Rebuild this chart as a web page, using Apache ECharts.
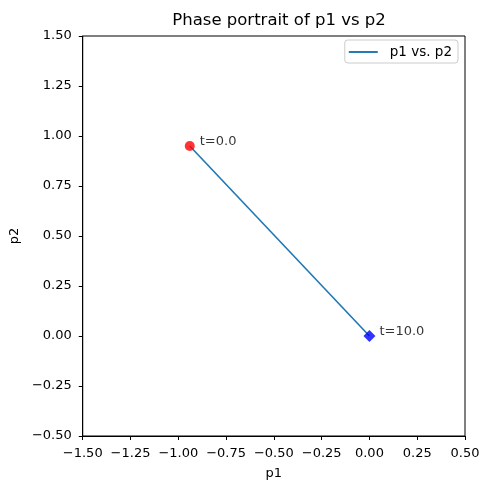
<!DOCTYPE html>
<html><head><meta charset="utf-8">
<script src="https://cdn.jsdelivr.net/npm/echarts@6/dist/echarts.min.js"></script>
<style>html,body{margin:0;padding:0;background:#fff}#c{width:490px;height:490px}</style>
</head><body><div id="c"></div>
<script>
const title = 'Phase portrait of p1 vs p2';
const p1 = [-0.94, 0.0];
const p2 = [0.95, 0.0];
const startLabel = 't=0.0';
const endLabel = 't=10.0';
const xTicks = [-1.5, -1.25, -1.0, -0.75, -0.5, -0.25, 0.0, 0.25, 0.5];
const yTicks = [-0.5, -0.25, 0.0, 0.25, 0.5, 0.75, 1.0, 1.25, 1.5];

const font = 'DejaVu Sans';
const fmt = v => (v < 0 ? '\u2212' : '') + Math.abs(v).toFixed(2);
const chart = echarts.init(document.getElementById('c'), null, {renderer: 'canvas'});
chart.setOption({
  animation: false,
  title: {text: title, left: 274, textAlign: 'center', top: 7, textStyle: {fontFamily: font, fontSize: 16.5, fontWeight: 'normal', color: '#000'}},
  grid: {left: 82, right: 25, top: 36, bottom: 54, show: true, borderColor: '#000', borderWidth: 1, backgroundColor: '#fff'},
  legend: {
    right: 32, top: 40, orient: 'vertical',
    data: [{name: 'p1 vs. p2', icon: 'path://M0,0 L30,0 L30,2 L0,2 Z'}],
    itemWidth: 29, itemHeight: 2, itemGap: 5,
    textStyle: {fontFamily: font, fontSize: 13.5, color: '#000', padding: [0, 0, 0, 7]},
    borderColor: '#ccc', borderWidth: 1, borderRadius: 3, padding: [5, 6, 4, 4], backgroundColor: '#fff'
  },
  xAxis: {
    type: 'value', min: -1.5, max: 0.5, interval: 0.25,
    name: 'p1', nameLocation: 'middle', nameGap: 31,
    nameTextStyle: {fontFamily: font, fontSize: 13, color: '#000'},
    axisLine: {show: true, onZero: false, lineStyle: {color: '#000'}},
    axisTick: {show: true, length: 4, lineStyle: {color: '#000'}},
    splitLine: {show: false},
    axisLabel: {fontFamily: font, fontSize: 13, color: '#000', margin: 11, formatter: v => fmt(v)}
  },
  yAxis: {
    type: 'value', min: -0.5, max: 1.5, interval: 0.25,
    name: 'p2', nameLocation: 'middle', nameGap: 54, nameRotate: 90,
    nameTextStyle: {fontFamily: font, fontSize: 13, color: '#000'},
    axisLine: {show: true, onZero: false, lineStyle: {color: '#000'}},
    axisTick: {show: true, length: 4, lineStyle: {color: '#000'}},
    splitLine: {show: false},
    axisLabel: {fontFamily: font, fontSize: 13, color: '#000', margin: 11, formatter: v => fmt(v)}
  },
  series: [
    {
      name: 'p1 vs. p2', type: 'line', data: p1.map((x, i) => [x, p2[i]]),
      showSymbol: false, symbol: 'none', lineStyle: {color: '#1f77b4', width: 1.6}, itemStyle: {color: '#1f77b4'}, z: 2
    },
    {
      name: 'start', type: 'scatter', data: [[p1[0], p2[0]]], symbol: 'circle', symbolSize: 10,
      itemStyle: {color: '#ff0000'}, z: 3,
      label: {show: true, position: 'right', distance: 5, offset: [0, -4], formatter: startLabel, fontFamily: font, fontSize: 13, color: '#000'}
    },
    {
      name: 'end', type: 'scatter', data: [[p1[p1.length - 1], p2[p2.length - 1]]], symbol: 'diamond', symbolSize: 12,
      itemStyle: {color: '#0000ff'}, z: 3,
      label: {show: true, position: 'right', distance: 4, offset: [0, -4], formatter: endLabel, fontFamily: font, fontSize: 13, color: '#000'}
    }
  ]
});
</script></body></html>
